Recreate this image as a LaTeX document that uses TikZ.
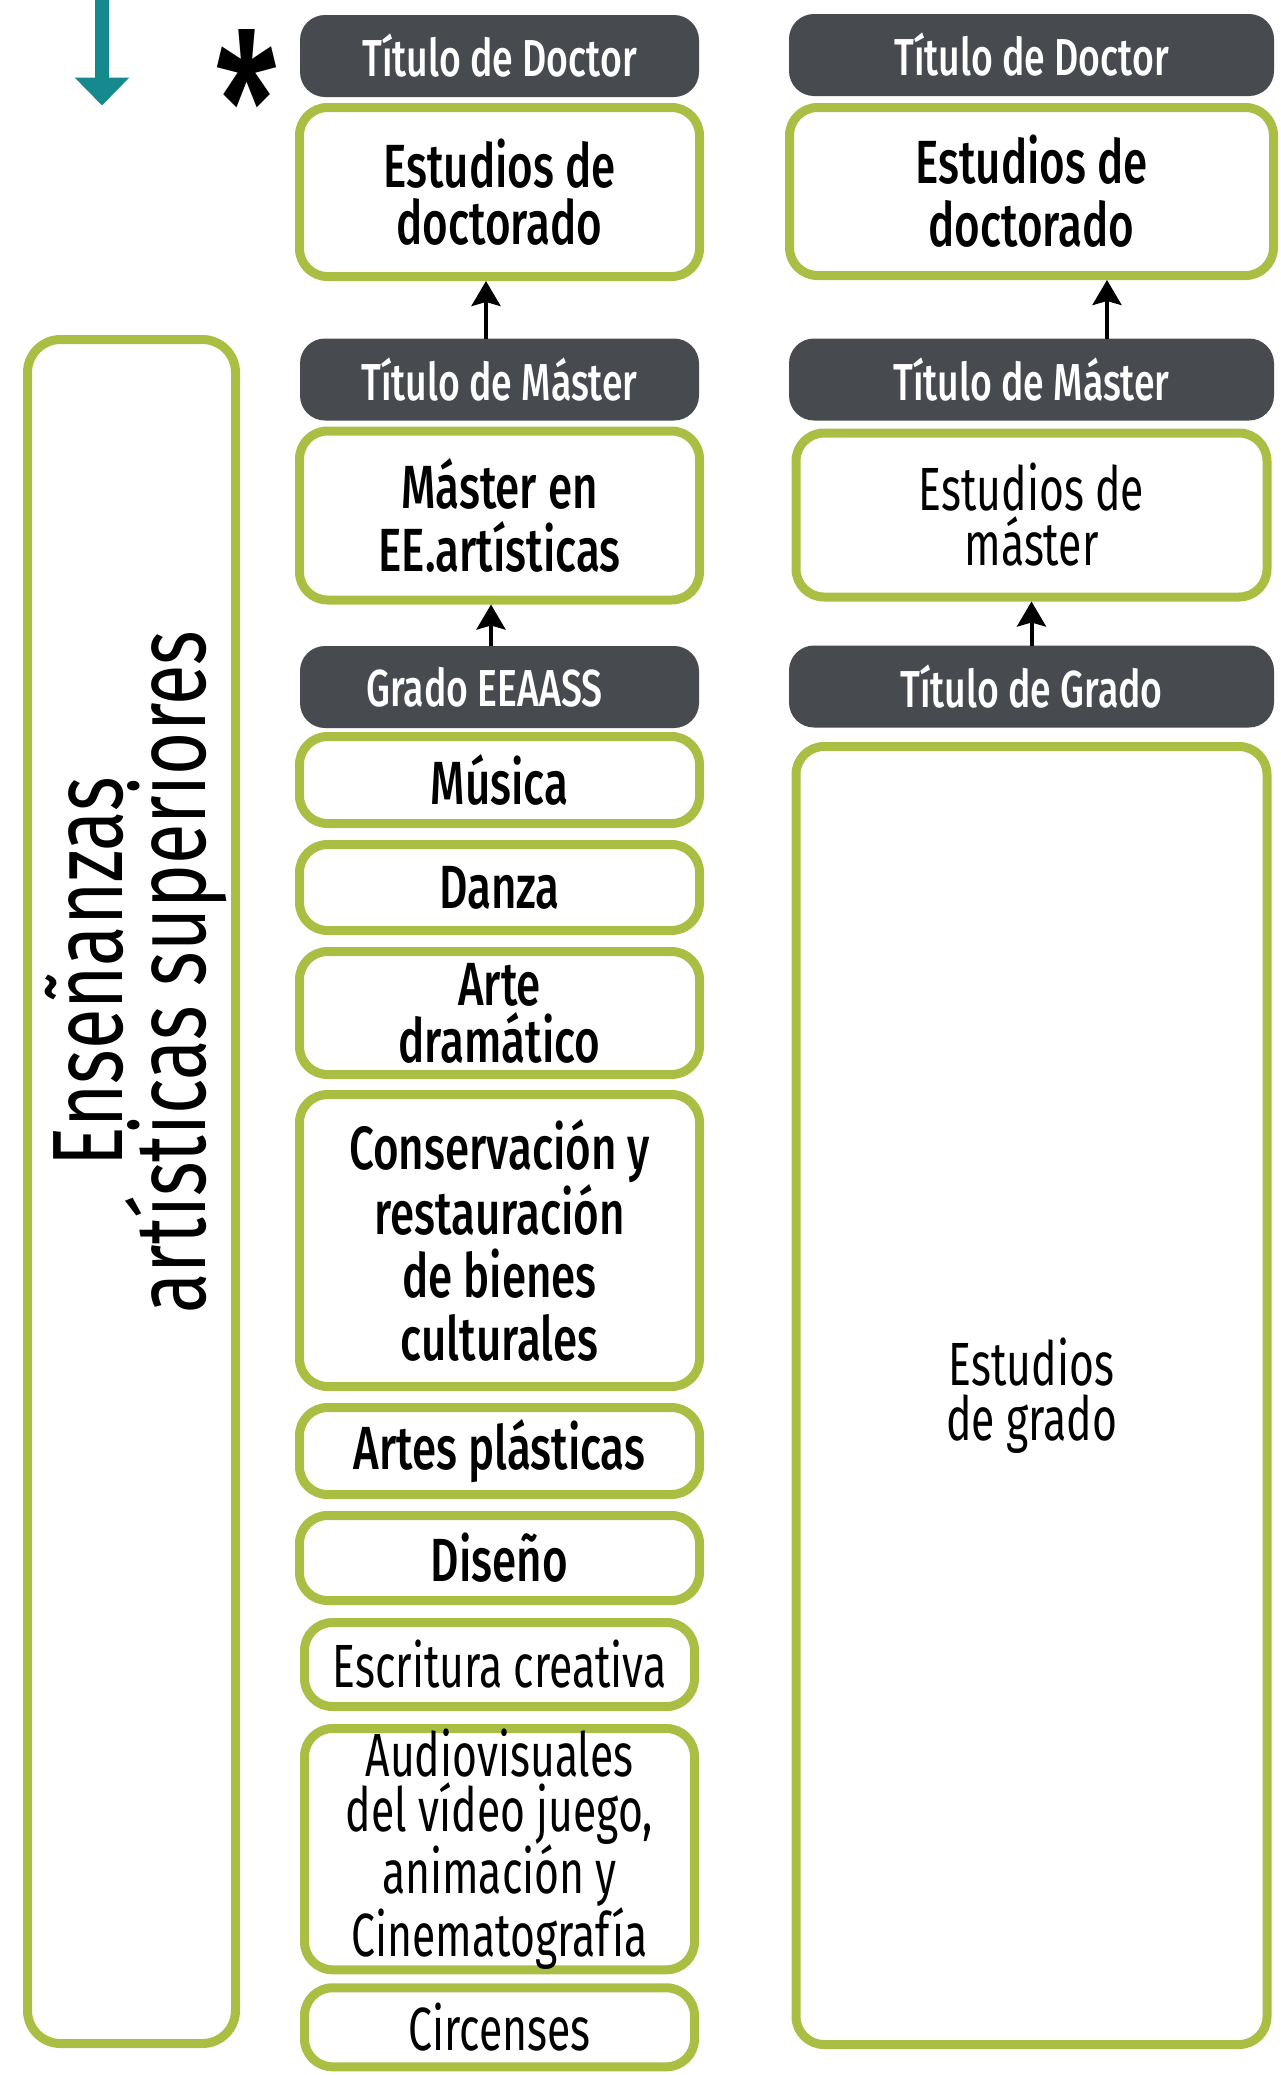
\documentclass[tikz,border=0pt]{standalone}
\usepackage{fontspec}
\setmainfont{Fira Sans}[FakeStretch=0.72, BoldFont={* Medium}]
\newfontfamily\thinfam{Fira Sans}[FakeStretch=0.70]
\newfontfamily\sidefam{Fira Sans}[FakeStretch=0.74]
\usepackage{tikz}
\usetikzlibrary{positioning}
\usetikzlibrary{arrows.meta}
\tikzset{>={Stealth[width=29pt,length=25pt,inset=4pt]}}
\definecolor{slate}{HTML}{474A4F}
\definecolor{leaf}{HTML}{A9BE43}
\definecolor{flowteal}{HTML}{148A8E}
\newcommand{\ttlfont}{\bfseries\fontsize{52}{52}\selectfont}
\newcommand{\boxfont}{\bfseries\fontsize{61}{57}\selectfont}
\newcommand{\loosefont}{\bfseries\fontsize{61}{63}\selectfont}
\newcommand{\thinfont}{\thinfam\fontsize{61}{55}\selectfont}
\newcommand{\sidefont}{\sidefam\fontsize{100}{80}\selectfont}
\newcommand{\astfont}{\bfseries\fontsize{197}{197}\selectfont}

\begin{document}
\begin{tikzpicture}[x=1pt, y=1pt, titlebox/.style={rounded corners=25pt, fill=slate, text=white, font=\ttlfont, minimum width=399pt, minimum height=82pt, inner sep=0pt, outer sep=0pt}, studybox/.style={rounded corners=28pt, draw=leaf, line width=9pt, font=\boxfont, align=center, minimum width=400pt, inner sep=0pt}, thinbox/.style={studybox, font=\thinfont, minimum width=390pt}, widetitle/.style={titlebox, minimum width=485pt}]
    \useasboundingbox (0,0) rectangle (1281,-2075);

    %Nodes
    \node[titlebox](doctorL) at (499.5,-56){Título de Doctor};
    \node[studybox, minimum height=169pt](phdL)[below=6pt of doctorL]{Estudios de\\doctorado};
    \node[titlebox](masterL)[below=57.5pt of phdL]{Título de Máster};
    \node[studybox, font=\loosefont, minimum height=169pt](artsmaster)[below=6pt of masterL]{Máster en\\EE.artísticas};
    \node[titlebox](gradoL)[below=41.5pt of artsmaster]{Grado EEAASS\kern30pt};
    \node[studybox, minimum height=87pt](musica)[below=4pt of gradoL]{Música};
    \node[studybox, minimum height=86pt](danza)[below=12pt of musica]{Danza};
    \node[studybox, minimum height=123pt](arte)[below=12pt of danza]{Arte\\dramático};
    \node[studybox, font=\loosefont, minimum height=292pt](conserv)[below=11pt of arte]{Conservación y\\restauración\\de bienes\\culturales};
    \node[studybox, minimum height=87pt](plasticas)[below=12pt of conserv]{Artes plásticas};
    \node[studybox, minimum height=85pt](diseno)[below=12pt of plasticas]{Diseño};
    \node[thinbox, minimum height=84pt](escritura)[below=13pt of diseno]{Escritura creativa};
    \node[thinbox, minimum height=235pt](audiovis)[below=13pt of escritura]{Audiovisuales\\del vídeo juego,\\animación y\\Cinematografía};
    \node[thinbox, minimum height=79pt](circo)[below=9pt of audiovis]{Circenses};

    \node[widetitle](doctorR) at (1031.5,-55){Título de Doctor};
    \node[studybox, font=\loosefont, minimum width=484pt, minimum height=168pt](phdR)[below=7pt of doctorR]{Estudios de\\doctorado};
    \node[widetitle](masterR)[below=58.5pt of phdR]{Título de Máster};
    \node[thinbox, minimum width=471pt, minimum height=164pt](masterstudy)[below=8pt of masterR]{Estudios de\\máster};
    \node[widetitle](gradoR)[below=44pt of masterstudy]{Título de Grado};
    \node[thinbox, minimum width=471pt, minimum height=1298pt](degree)[below=14.5pt of gradoR]{Estudios\\de grado};

    \node[studybox, rounded corners=33pt, minimum width=208pt, minimum height=1704pt](sidebar) at (131.5,-1191.5){};
    \node[rotate=90, font=\sidefont, align=center, inner sep=0pt](sidetitle) at (136,-972){Enseñanzas\\artísticas superiores};
    \node[font=\astfont, inner sep=0pt, anchor=base](star) at (247,-175.5){*};
    \coordinate (flowtop) at (102,0);
    \coordinate (flowend) at (102,-105.5);

    %Lines
    \draw[-{Triangle[width=53pt,length=28pt]}, line width=14pt, flowteal] (flowtop) -- (flowend);
    \draw[->, line width=4pt] ([xshift=-13.5pt]masterL.north) -- ([xshift=-13.5pt]phdL.south);
    \draw[->, line width=4pt] ([xshift=-8.5pt]gradoL.north) -- ([xshift=-8.5pt]artsmaster.south);
    \draw[->, line width=4pt] ([xshift=75.5pt]masterR.north) -- ([xshift=75.5pt]phdR.south);
    \draw[->, line width=4pt] (gradoR.north) -- (masterstudy.south);

\end{tikzpicture}
\end{document}
